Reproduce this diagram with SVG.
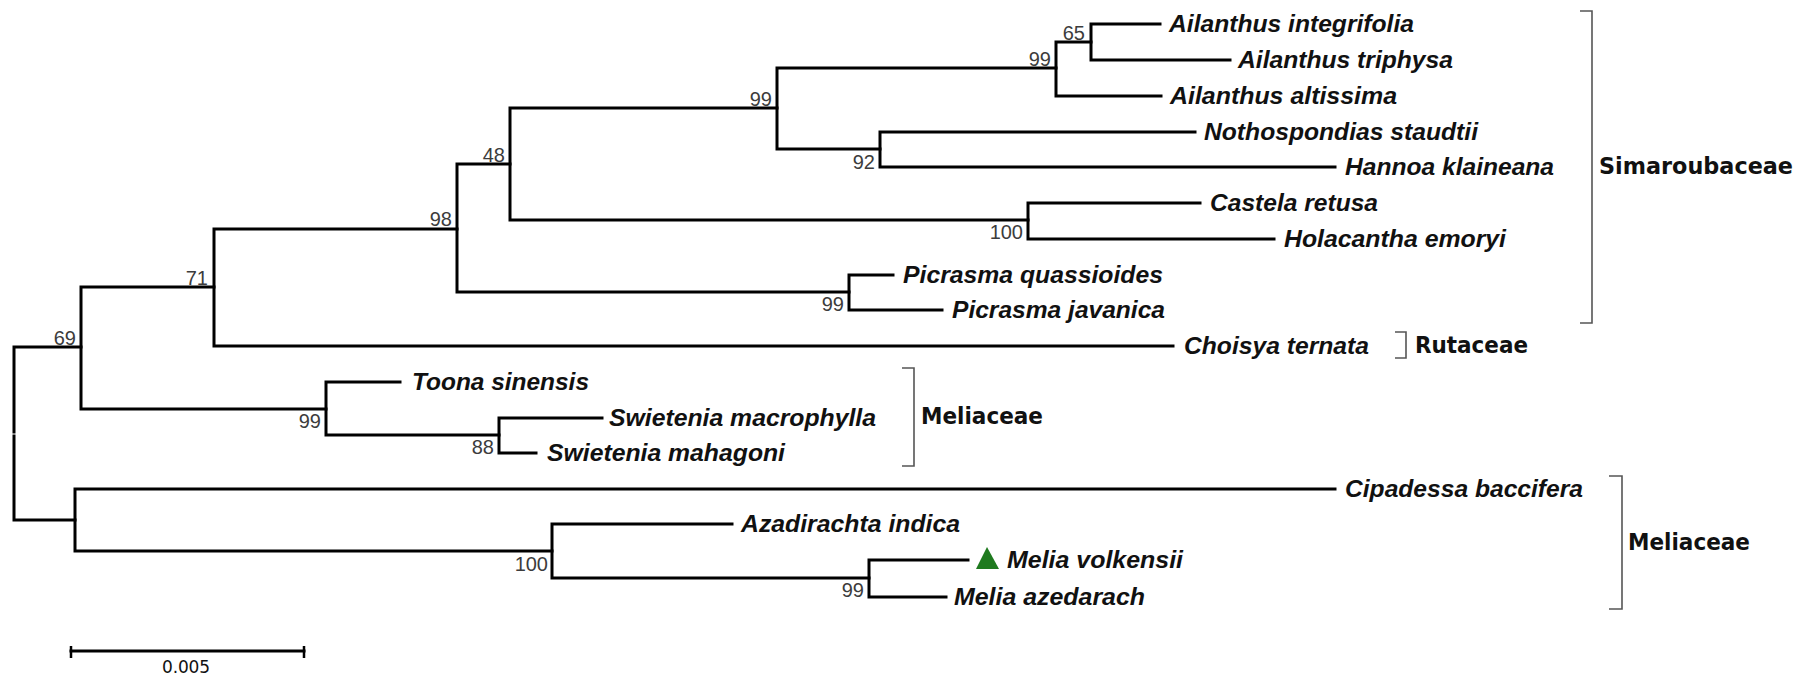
<svg xmlns="http://www.w3.org/2000/svg" width="1809" height="677" viewBox="0 0 1809 677">
<style>
.br{stroke:#000;stroke-width:3;fill:none;stroke-linecap:square}
.brk{stroke:#555;stroke-width:1.6;fill:none}
.sp{font-family:"Liberation Sans",Arial,sans-serif;font-style:italic;font-weight:bold;font-size:24px;fill:#111}
.bs{font-family:"Liberation Sans",Arial,sans-serif;font-size:20px;fill:#3c3c3c;text-anchor:end}
.fam{font-family:"DejaVu Sans",Verdana,sans-serif;font-weight:bold;font-size:23px;fill:#111}
.sc{font-family:"DejaVu Sans",Verdana,sans-serif;font-size:17px;fill:#111}
</style>
<rect width="1809" height="677" fill="#fff"/>
<g id="connectors">
<path class="br" d="M14,347 V432 M14,436 V520 M14,347 H81 M14,520 H75"/>
<path class="br" d="M81,287 V409 M81,287 H214 M81,409 H326"/>
<path class="br" d="M214,229 V346 M214,229 H457 M214,346 H1173"/>
<path class="br" d="M457,164 V292 M457,164 H510 M457,292 H849"/>
<path class="br" d="M510,108 V220 M510,108 H777 M510,220 H1028"/>
<path class="br" d="M777,68 V149 M777,68 H1056 M777,149 H880"/>
<path class="br" d="M1056,42 V96 M1056,42 H1091 M1056,96 H1161"/>
<path class="br" d="M1091,24 V60 M1091,24 H1160 M1091,60 H1230"/>
<path class="br" d="M880,132 V167 M880,132 H1195 M880,167 H1335"/>
<path class="br" d="M1028,203 V239 M1028,203 H1200 M1028,239 H1274"/>
<path class="br" d="M849,275 V310 M849,275 H893 M849,310 H942"/>
<path class="br" d="M326,382 V435 M326,382 H400 M326,435 H499"/>
<path class="br" d="M499,418 V453 M499,418 H602 M499,453 H536"/>
<path class="br" d="M75,489 V551 M75,489 H1335 M75,551 H552"/>
<path class="br" d="M552,524 V578 M552,524 H732 M552,578 H869"/>
<path class="br" d="M869,560 V597 M869,560 H968 M869,597 H946"/>
</g>
<g id="node-69"><text class="bs" x="76" y="345">69</text></g>
<g id="node-71"><text class="bs" x="208" y="285">71</text></g>
<g id="node-98"><text class="bs" x="452" y="226">98</text></g>
<g id="node-48"><text class="bs" x="505" y="162">48</text></g>
<g id="node-99a"><text class="bs" x="772" y="106">99</text></g>
<g id="node-99b"><text class="bs" x="1051" y="66">99</text></g>
<g id="node-65"><text class="bs" x="1085" y="40">65</text></g>
<g id="node-92"><text class="bs" x="875" y="169">92</text></g>
<g id="node-100a"><text class="bs" x="1023" y="239">100</text></g>
<g id="node-99c"><text class="bs" x="844" y="311">99</text></g>
<g id="node-99d"><text class="bs" x="321" y="428">99</text></g>
<g id="node-88"><text class="bs" x="494" y="454">88</text></g>
<g id="node-100b"><text class="bs" x="548" y="571">100</text></g>
<g id="node-99e"><text class="bs" x="864" y="597">99</text></g>
<g id="tip-ailanthus-integrifolia"><text class="sp" x="1169" y="32" textLength="245" lengthAdjust="spacingAndGlyphs">Ailanthus integrifolia</text></g>
<g id="tip-ailanthus-triphysa"><text class="sp" x="1238" y="68" textLength="215" lengthAdjust="spacingAndGlyphs">Ailanthus triphysa</text></g>
<g id="tip-ailanthus-altissima"><text class="sp" x="1170" y="104" textLength="227" lengthAdjust="spacingAndGlyphs">Ailanthus altissima</text></g>
<g id="tip-nothospondias"><text class="sp" x="1204" y="140" textLength="274" lengthAdjust="spacingAndGlyphs">Nothospondias staudtii</text></g>
<g id="tip-hannoa"><text class="sp" x="1345" y="175" textLength="209" lengthAdjust="spacingAndGlyphs">Hannoa klaineana</text></g>
<g id="tip-castela"><text class="sp" x="1210" y="211" textLength="168" lengthAdjust="spacingAndGlyphs">Castela retusa</text></g>
<g id="tip-holacantha"><text class="sp" x="1284" y="247" textLength="222" lengthAdjust="spacingAndGlyphs">Holacantha emoryi</text></g>
<g id="tip-picrasma-quassioides"><text class="sp" x="903" y="283" textLength="260" lengthAdjust="spacingAndGlyphs">Picrasma quassioides</text></g>
<g id="tip-picrasma-javanica"><text class="sp" x="952" y="318" textLength="213" lengthAdjust="spacingAndGlyphs">Picrasma javanica</text></g>
<g id="tip-choisya"><text class="sp" x="1184" y="354" textLength="185" lengthAdjust="spacingAndGlyphs">Choisya ternata</text></g>
<g id="tip-toona"><text class="sp" x="412" y="390" textLength="177" lengthAdjust="spacingAndGlyphs">Toona sinensis</text></g>
<g id="tip-swietenia-macrophylla"><text class="sp" x="609" y="426" textLength="267" lengthAdjust="spacingAndGlyphs">Swietenia macrophylla</text></g>
<g id="tip-swietenia-mahagoni"><text class="sp" x="547" y="461" textLength="238" lengthAdjust="spacingAndGlyphs">Swietenia mahagoni</text></g>
<g id="tip-cipadessa"><text class="sp" x="1345" y="497" textLength="238" lengthAdjust="spacingAndGlyphs">Cipadessa baccifera</text></g>
<g id="tip-azadirachta"><text class="sp" x="741" y="532" textLength="219" lengthAdjust="spacingAndGlyphs">Azadirachta indica</text></g>
<g id="tip-melia-volkensii"><polygon points="987,547 976,569 999,569" fill="#1f7a1f"/><text class="sp" x="1007" y="568" textLength="176" lengthAdjust="spacingAndGlyphs">Melia volkensii</text></g>
<g id="tip-melia-azedarach"><text class="sp" x="954" y="605" textLength="191" lengthAdjust="spacingAndGlyphs">Melia azedarach</text></g>
<g id="family-simaroubaceae"><path class="brk" d="M1580,11 H1592 V323 H1580"/><text class="fam" x="1599" y="174" textLength="194" lengthAdjust="spacingAndGlyphs">Simaroubaceae</text></g>
<g id="family-rutaceae"><path class="brk" d="M1395,332 H1406 V358 H1395"/><text class="fam" x="1415" y="353" textLength="113" lengthAdjust="spacingAndGlyphs">Rutaceae</text></g>
<g id="family-meliaceae-1"><path class="brk" d="M902,368 H914 V466 H902"/><text class="fam" x="921" y="424" textLength="122" lengthAdjust="spacingAndGlyphs">Meliaceae</text></g>
<g id="family-meliaceae-2"><path class="brk" d="M1609,476 H1622 V609 H1609"/><text class="fam" x="1628" y="550" textLength="122" lengthAdjust="spacingAndGlyphs">Meliaceae</text></g>
<g id="scale-bar"><path class="br" d="M71,651 H304"/><path stroke="#000" stroke-width="2.5" d="M71,646 V658 M304,646 V658"/><text class="sc" x="162" y="673" textLength="48">0.005</text></g>
</svg>
